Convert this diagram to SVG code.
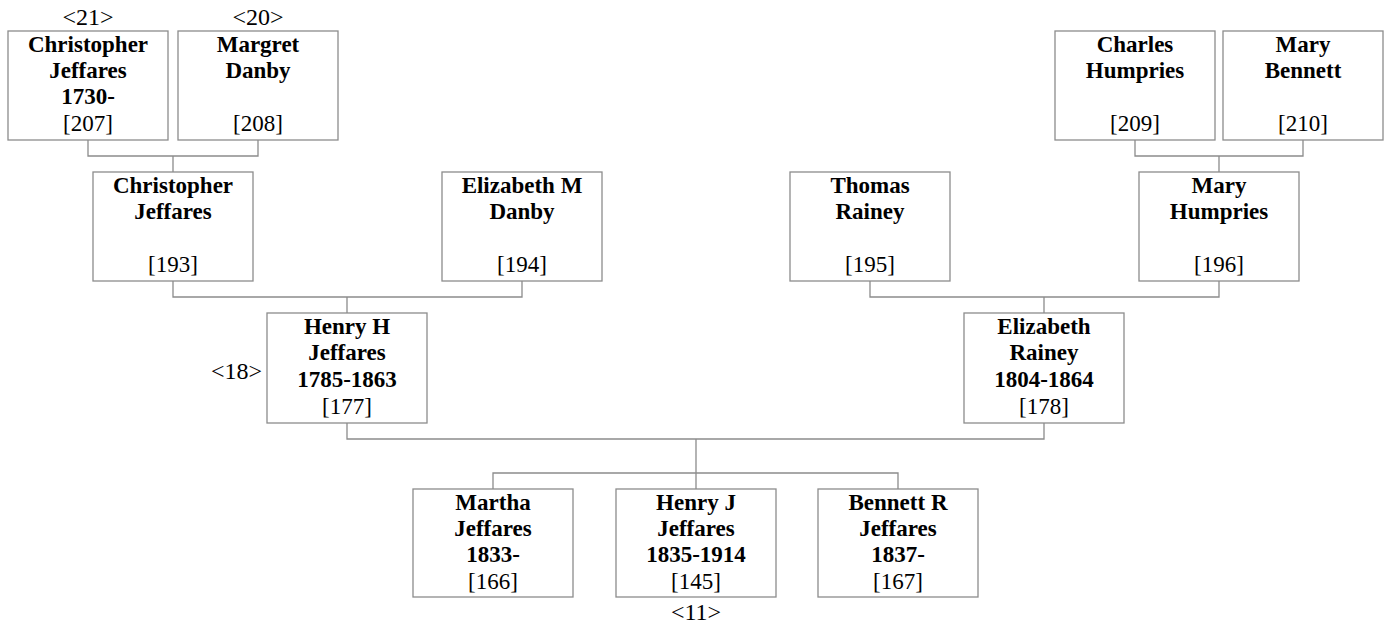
<svg xmlns="http://www.w3.org/2000/svg" width="1387" height="628" viewBox="0 0 1387 628">
<style>
.box{fill:#fff;stroke:#8c8c8c;stroke-width:1.3}
.n{font-weight:bold;text-anchor:middle}
.r{text-anchor:middle}
.c{fill:none;stroke:#8c8c8c;stroke-width:1.3}
</style>
<rect width="1387" height="628" fill="#fff"/>
<g id="connectors">
<path class="c" d="M88 140V156H258V140M173 156V172"/>
<path class="c" d="M1135 140V156H1303V140M1219 156V172"/>
<path class="c" d="M173 281V297H522V281M347 297V313"/>
<path class="c" d="M870 281V297H1219V281M1044 297V313"/>
<path class="c" d="M347 423V439H1044V423M696 439V473M493 489V473H898V489M696 473V489"/>
</g>
<g id="p207"><rect class="box" x="8" y="31" width="160" height="109"/>
<text class="n" font-family="Liberation Serif" font-size="23" x="88" y="52">Christopher</text><text class="n" font-family="Liberation Serif" font-size="23" x="88" y="78">Jeffares</text><text class="n" font-family="Liberation Serif" font-size="23" x="88" y="104">1730-</text><text class="r" font-family="Liberation Serif" font-size="23" x="88" y="131">[207]</text></g>
<g id="p208"><rect class="box" x="178" y="31" width="160" height="109"/>
<text class="n" font-family="Liberation Serif" font-size="23" x="258" y="52">Margret</text><text class="n" font-family="Liberation Serif" font-size="23" x="258" y="78">Danby</text><text class="r" font-family="Liberation Serif" font-size="23" x="258" y="131">[208]</text></g>
<g id="p209"><rect class="box" x="1055" y="31" width="160" height="109"/>
<text class="n" font-family="Liberation Serif" font-size="23" x="1135" y="52">Charles</text><text class="n" font-family="Liberation Serif" font-size="23" x="1135" y="78">Humpries</text><text class="r" font-family="Liberation Serif" font-size="23" x="1135" y="131">[209]</text></g>
<g id="p210"><rect class="box" x="1223" y="31" width="160" height="109"/>
<text class="n" font-family="Liberation Serif" font-size="23" x="1303" y="52">Mary</text><text class="n" font-family="Liberation Serif" font-size="23" x="1303" y="78">Bennett</text><text class="r" font-family="Liberation Serif" font-size="23" x="1303" y="131">[210]</text></g>
<g id="p193"><rect class="box" x="93" y="172" width="160" height="109"/>
<text class="n" font-family="Liberation Serif" font-size="23" x="173" y="193">Christopher</text><text class="n" font-family="Liberation Serif" font-size="23" x="173" y="219">Jeffares</text><text class="r" font-family="Liberation Serif" font-size="23" x="173" y="272">[193]</text></g>
<g id="p194"><rect class="box" x="442" y="172" width="160" height="109"/>
<text class="n" font-family="Liberation Serif" font-size="23" x="522" y="193">Elizabeth M</text><text class="n" font-family="Liberation Serif" font-size="23" x="522" y="219">Danby</text><text class="r" font-family="Liberation Serif" font-size="23" x="522" y="272">[194]</text></g>
<g id="p195"><rect class="box" x="790" y="172" width="160" height="109"/>
<text class="n" font-family="Liberation Serif" font-size="23" x="870" y="193">Thomas</text><text class="n" font-family="Liberation Serif" font-size="23" x="870" y="219">Rainey</text><text class="r" font-family="Liberation Serif" font-size="23" x="870" y="272">[195]</text></g>
<g id="p196"><rect class="box" x="1139" y="172" width="160" height="109"/>
<text class="n" font-family="Liberation Serif" font-size="23" x="1219" y="193">Mary</text><text class="n" font-family="Liberation Serif" font-size="23" x="1219" y="219">Humpries</text><text class="r" font-family="Liberation Serif" font-size="23" x="1219" y="272">[196]</text></g>
<g id="p177"><rect class="box" x="267" y="313" width="160" height="110"/>
<text class="n" font-family="Liberation Serif" font-size="23" x="347" y="334">Henry H</text><text class="n" font-family="Liberation Serif" font-size="23" x="347" y="360">Jeffares</text><text class="n" font-family="Liberation Serif" font-size="23" x="347" y="387">1785-1863</text><text class="r" font-family="Liberation Serif" font-size="23" x="347" y="414">[177]</text></g>
<g id="p178"><rect class="box" x="964" y="313" width="160" height="110"/>
<text class="n" font-family="Liberation Serif" font-size="23" x="1044" y="334">Elizabeth</text><text class="n" font-family="Liberation Serif" font-size="23" x="1044" y="360">Rainey</text><text class="n" font-family="Liberation Serif" font-size="23" x="1044" y="387">1804-1864</text><text class="r" font-family="Liberation Serif" font-size="23" x="1044" y="414">[178]</text></g>
<g id="p166"><rect class="box" x="413" y="489" width="160" height="108"/>
<text class="n" font-family="Liberation Serif" font-size="23" x="493" y="510">Martha</text><text class="n" font-family="Liberation Serif" font-size="23" x="493" y="536">Jeffares</text><text class="n" font-family="Liberation Serif" font-size="23" x="493" y="562">1833-</text><text class="r" font-family="Liberation Serif" font-size="23" x="493" y="589">[166]</text></g>
<g id="p145"><rect class="box" x="616" y="489" width="160" height="108"/>
<text class="n" font-family="Liberation Serif" font-size="23" x="696" y="510">Henry J</text><text class="n" font-family="Liberation Serif" font-size="23" x="696" y="536">Jeffares</text><text class="n" font-family="Liberation Serif" font-size="23" x="696" y="562">1835-1914</text><text class="r" font-family="Liberation Serif" font-size="23" x="696" y="589">[145]</text></g>
<g id="p167"><rect class="box" x="818" y="489" width="160" height="108"/>
<text class="n" font-family="Liberation Serif" font-size="23" x="898" y="510">Bennett R</text><text class="n" font-family="Liberation Serif" font-size="23" x="898" y="536">Jeffares</text><text class="n" font-family="Liberation Serif" font-size="23" x="898" y="562">1837-</text><text class="r" font-family="Liberation Serif" font-size="23" x="898" y="589">[167]</text></g>
<g id="labels">
<text font-family="Liberation Serif" font-size="24" x="88" y="25" text-anchor="middle">&lt;21&gt;</text>
<text font-family="Liberation Serif" font-size="24" x="258" y="25" text-anchor="middle">&lt;20&gt;</text>
<text font-family="Liberation Serif" font-size="24" x="262" y="379" text-anchor="end">&lt;18&gt;</text>
<text font-family="Liberation Serif" font-size="24" x="696" y="620" text-anchor="middle">&lt;11&gt;</text>
</g>
</svg>
